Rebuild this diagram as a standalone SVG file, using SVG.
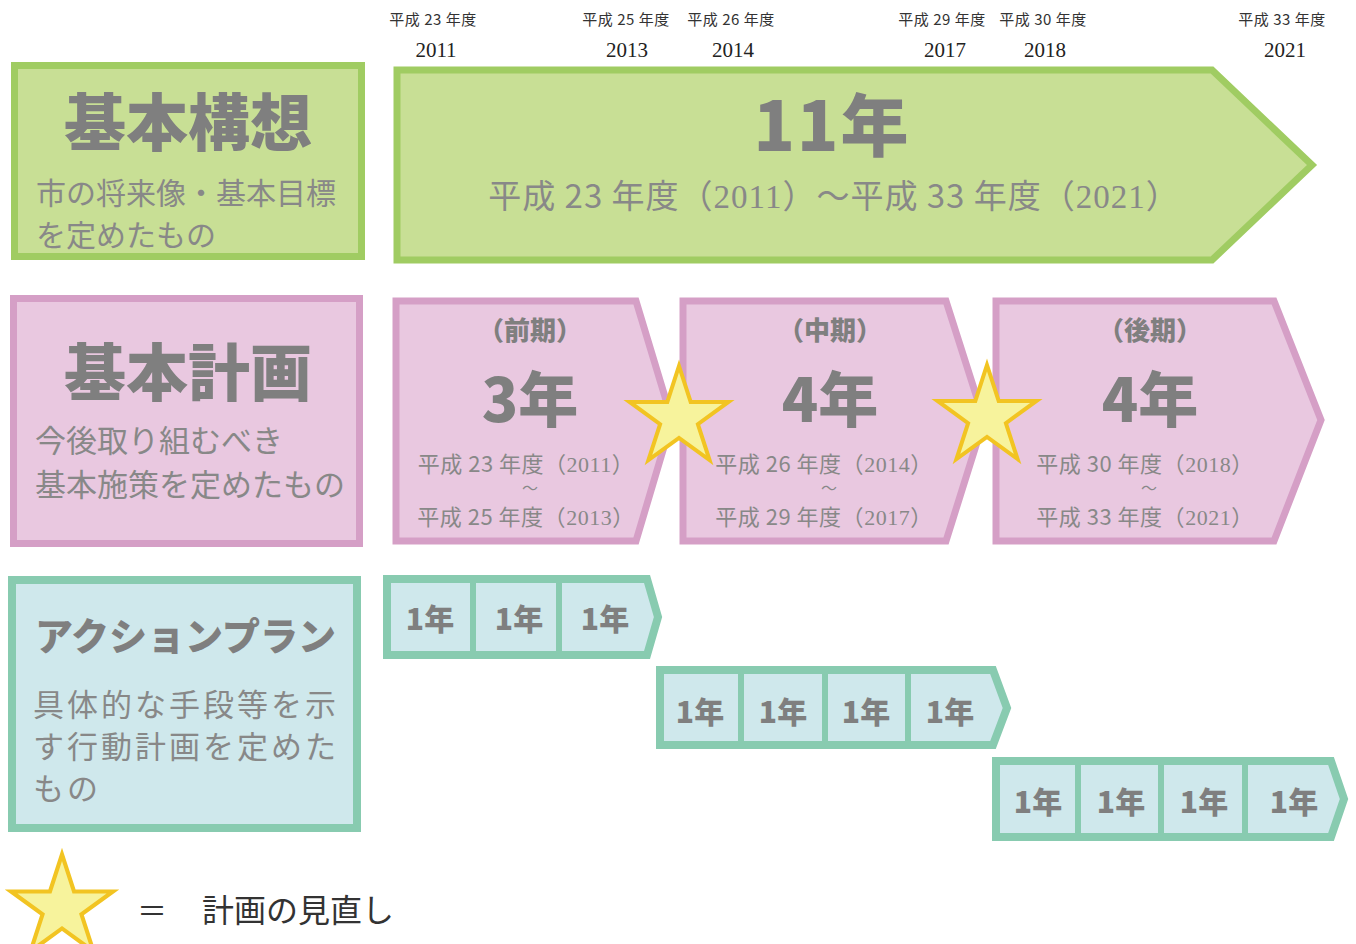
<svg xmlns="http://www.w3.org/2000/svg" width="1356" height="944" viewBox="0 0 1356 944">
<style>
.jp{font-family:"Noto Sans CJK JP","Noto Sans",sans-serif;}
.serif{font-family:"Liberation Serif","Noto Sans CJK JP",serif;}
.title{font-family:"Noto Sans CJK JP",sans-serif;font-weight:900;fill:#7f7f7f;text-anchor:middle;}
.titleL{font-family:"Noto Sans CJK JP",sans-serif;font-weight:900;fill:#7f7f7f;text-anchor:start;}
.sub{font-family:"Noto Sans CJK JP",sans-serif;font-weight:400;fill:#888;}
.lbl{font-family:"Noto Sans CJK JP",sans-serif;font-size:15px;letter-spacing:0.5px;fill:#333;text-anchor:middle;}
.yr{font-family:"Liberation Serif",serif;font-size:21px;fill:#222;text-anchor:middle;}
.g{fill:#c8df95;stroke:#a0cc62;stroke-width:7;stroke-linejoin:miter;}
.p{fill:#e9c8e0;stroke:#d59fc6;stroke-width:7;stroke-linejoin:miter;}
.t{fill:#cfe8ec;stroke:#88cbb0;stroke-width:8;stroke-linejoin:miter;}
.div{stroke:#88cbb0;stroke-width:6;}
.star{fill:#f7f39c;stroke:#f2c422;stroke-width:4;stroke-linejoin:miter;}
.one{font-family:"Noto Sans CJK JP",sans-serif;font-weight:900;font-size:30px;fill:#7f7f7f;text-anchor:middle;}
.per{font-family:"Noto Sans CJK JP",sans-serif;font-size:22px;letter-spacing:0.5px;fill:#888;text-anchor:middle;}
.tilde{font-family:"Noto Sans CJK JP",sans-serif;font-size:16px;fill:#888;text-anchor:middle;}
</style>
<defs>
<polygon id="starShape" points="0,-52 11.67,-16.07 49.46,-16.07 18.89,6.14 30.57,42.07 0,19.86 -30.57,42.07 -18.89,6.14 -49.46,-16.07 -11.67,-16.07"/>
</defs>

<g id="timeline">
<text class="lbl" x="433" y="25">平成 23 年度</text>
<text class="yr" x="436" y="57">2011</text>
<text class="lbl" x="626" y="25">平成 25 年度</text>
<text class="yr" x="627" y="57">2013</text>
<text class="lbl" x="731" y="25">平成 26 年度</text>
<text class="yr" x="733" y="57">2014</text>
<text class="lbl" x="942" y="25">平成 29 年度</text>
<text class="yr" x="945" y="57">2017</text>
<text class="lbl" x="1043" y="25">平成 30 年度</text>
<text class="yr" x="1045" y="57">2018</text>
<text class="lbl" x="1282" y="25">平成 33 年度</text>
<text class="yr" x="1285" y="57">2021</text>
</g>

<g id="kihon-koso">
<rect class="g" x="14.5" y="65.5" width="347" height="191"/>
<text class="title" x="188" y="146" font-size="62">基本構想</text>
<text class="sub" x="36" y="204" font-size="30">市の将来像・基本目標</text>
<text class="sub" x="36" y="246" font-size="30">を定めたもの</text>
</g>

<g id="koso-arrow">
<polygon class="g" points="397,70 1212,70 1312,165 1212,260 397,260"/>
<text class="title" x="832" y="151" font-size="68" letter-spacing="2">11年</text>
<text class="sub" x="834" y="208" font-size="33" letter-spacing="1" text-anchor="middle">平成 23 年度（<tspan class="serif">2011</tspan>）～平成 33 年度（<tspan class="serif">2021</tspan>）</text>
</g>

<g id="kihon-keikaku">
<rect class="p" x="13.5" y="298.5" width="346" height="245"/>
<text class="title" x="188" y="396" font-size="62">基本計画</text>
<text class="sub" x="35" y="452" font-size="31">今後取り組むべき</text>
<text class="sub" x="35" y="496" font-size="31">基本施策を定めたもの</text>
</g>

<g id="zenki">
<polygon class="p" points="396,301 636,301 672,420 636,541 396,541"/>
<text class="title" x="530" y="340" font-size="26">（前期）</text>
<text class="title" x="530" y="422" font-size="60">3年</text>
<text class="per" x="526" y="472">平成 23 年度（<tspan class="serif">2011</tspan>）</text>
<text class="tilde" x="530" y="494">～</text>
<text class="per" x="526" y="525">平成 25 年度（<tspan class="serif">2013</tspan>）</text>
</g>

<g id="chuki">
<polygon class="p" points="683,301 946,301 984,420 946,541 683,541"/>
<text class="title" x="830" y="340" font-size="26">（中期）</text>
<text class="title" x="830" y="422" font-size="60">4年</text>
<text class="per" x="824" y="472">平成 26 年度（<tspan class="serif">2014</tspan>）</text>
<text class="tilde" x="829" y="494">～</text>
<text class="per" x="824" y="525">平成 29 年度（<tspan class="serif">2017</tspan>）</text>
</g>

<g id="koki">
<polygon class="p" points="996,301 1274,301 1321,420 1274,541 996,541"/>
<text class="title" x="1150" y="340" font-size="26">（後期）</text>
<text class="title" x="1150" y="422" font-size="60">4年</text>
<text class="per" x="1145" y="472">平成 30 年度（<tspan class="serif">2018</tspan>）</text>
<text class="tilde" x="1149" y="494">～</text>
<text class="per" x="1145" y="525">平成 33 年度（<tspan class="serif">2021</tspan>）</text>
</g>

<g id="action-plan">
<rect class="t" x="12" y="580" width="345" height="248"/>
<text class="titleL" x="35" y="650" font-size="38">アクションプラン</text>
<text class="sub" x="33" y="716" font-size="31" letter-spacing="3">具体的な手段等を示</text>
<text class="sub" x="33" y="758" font-size="31" letter-spacing="3">す行動計画を定めた</text>
<text class="sub" x="33" y="800" font-size="31" letter-spacing="3">もの</text>
</g>

<g id="action-row1">
<polygon class="t" points="387,579 647,579 658,617 647,655 387,655"/>
<line class="div" x1="473" y1="579" x2="473" y2="655"/>
<line class="div" x1="559" y1="579" x2="559" y2="655"/>
<text class="one" x="430" y="630">1年</text>
<text class="one" x="519" y="630">1年</text>
<text class="one" x="605" y="630">1年</text>
</g>

<g id="action-row2">
<polygon class="t" points="660,670 993,670 1007,708 993,745 660,745"/>
<line class="div" x1="741" y1="670" x2="741" y2="745"/>
<line class="div" x1="825" y1="670" x2="825" y2="745"/>
<line class="div" x1="908" y1="670" x2="908" y2="745"/>
<text class="one" x="700" y="723">1年</text>
<text class="one" x="783" y="723">1年</text>
<text class="one" x="866" y="723">1年</text>
<text class="one" x="950" y="723">1年</text>
</g>

<g id="action-row3">
<polygon class="t" points="996,761 1331,761 1344,799 1331,837 996,837"/>
<line class="div" x1="1078" y1="761" x2="1078" y2="837"/>
<line class="div" x1="1161" y1="761" x2="1161" y2="837"/>
<line class="div" x1="1245" y1="761" x2="1245" y2="837"/>
<text class="one" x="1038" y="813">1年</text>
<text class="one" x="1121" y="813">1年</text>
<text class="one" x="1204" y="813">1年</text>
<text class="one" x="1294" y="813">1年</text>
</g>

<g id="stars">
<use href="#starShape" class="star" transform="translate(679,418)"/>
<use href="#starShape" class="star" transform="translate(987,417)"/>
</g>

<g id="legend">
<use href="#starShape" class="star" transform="translate(62,908) scale(1.03)"/>
<text class="jp" x="152" y="922" font-size="30" fill="#333" text-anchor="middle">＝</text>
<text class="jp" x="202" y="922" font-size="32" fill="#333">計画の見直し</text>
</g>
</svg>
